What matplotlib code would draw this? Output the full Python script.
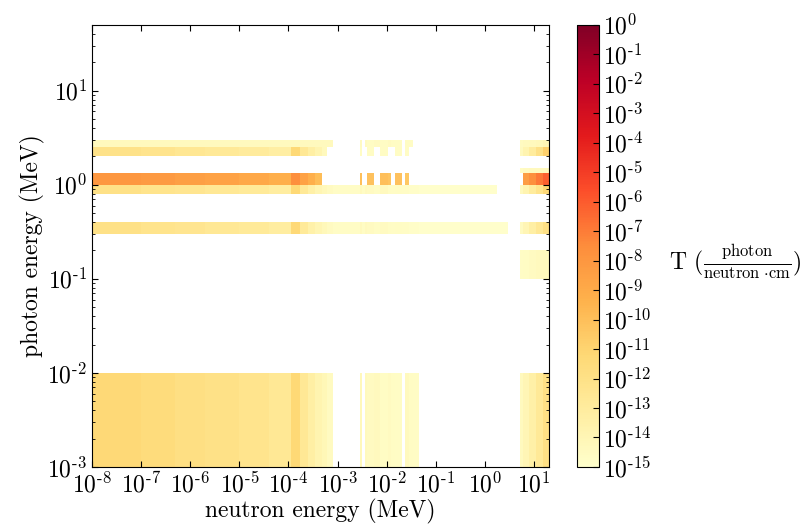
import numpy as np
import matplotlib
matplotlib.use('Agg')
import matplotlib.pyplot as plt
from matplotlib.colors import LogNorm
from matplotlib.ticker import FuncFormatter

plt.rcParams['font.family'] = 'serif'
plt.rcParams['font.serif'] = ['cmr10', 'DejaVu Serif']
plt.rcParams['mathtext.fontset'] = 'cm'
plt.rcParams['axes.formatter.use_mathtext'] = True
for ax_ in ['xtick', 'ytick']:
    plt.rcParams[ax_ + '.direction'] = 'in'
    plt.rcParams[ax_ + '.major.size'] = 4
    plt.rcParams[ax_ + '.minor.size'] = 2
plt.rcParams['xtick.top'] = True
plt.rcParams['ytick.right'] = True

nan = np.nan

# neutron energy group edges (MeV)
neutron_edges = [1e-8, 1e-7, 5e-7, 2e-6, 1e-5, 4e-5, 1.1e-4, 1.7e-4, 2.5e-4, 3.5e-4,
                 4.8e-4, 6.1e-4, 8.1e-4, 2.9e-3, 3.2e-3, 3.6e-3, 4.0e-3, 5.5e-3, 7.3e-3,
                 1.07e-2, 1.25e-2, 1.48e-2, 2.05e-2, 2.4e-2, 2.9e-2, 3.5e-2, 4.6e-2,
                 1.8, 3.0, 5.2, 6.0, 8.0, 11.0, 15.0, 20.0]

# photon energy group edges (MeV)
photon_edges = [1e-3, 1e-2, 0.1, 0.2, 0.3, 0.4, 0.8, 1.0, 1.33, 1.5, 2.0, 2.5, 3.0, 50.0]

# log10(T) for each photon group, one value per neutron group (nan = no data)
g_001_01 = [-11.3, -11.5, -11.8, -12.0, -12.3, -12.6, -11.2, -12.6, -13.3, -13.8, -14.1, -14.5,
            nan, -14.2, nan, -14.3, -14.5, -14.4, -14.6, -14.5, -14.6, -14.7, nan, -14.4, -14.6, -14.7,
            nan, nan, nan, -14.4, -14.0, -13.4, -12.7, -11.9]
g_01_1 = [nan] * 34
g_1_2 = [nan] * 29 + [-14.7, -14.6, -14.5, -14.4, -14.3]
g_2_3 = [nan] * 34
g_3_4 = [-12.0, -12.2, -12.4, -12.6, -12.8, -13.1, -11.3, -12.8, -13.5, -13.9, -14.2, -14.5,
         -14.7, -14.3, -14.6, -14.4, -14.5, -14.6, -14.5, -14.6, -14.7, -14.6, -14.7, -14.7, -14.8, -14.8,
         -14.9, -14.9, nan, -14.5, -14.0, -13.3, -12.6, -11.9]
g_4_8 = [nan] * 34
g_8_10 = [-12.0, -12.2, -12.4, -12.6, -12.8, -13.1, -11.2, -12.7, -13.4, -13.9, -14.2, -14.5,
          -14.7, -14.3, -14.6, -14.4, -14.5, -14.6, -14.4, -14.6, -14.7, -14.6, -14.7, -14.7, -14.8, -14.8,
          -14.9, nan, nan, -14.4, -13.8, -13.0, -12.2, -11.3]
g_10_133 = [-8.0, -8.2, -8.4, -8.6, -8.9, -9.2, -7.6, -8.6, -9.2, -9.9, nan, nan,
            nan, -10.0, nan, nan, -10.1, nan, -10.0, -10.2, nan, -10.1, nan, -10.4, nan, nan,
            nan, nan, nan, nan, -8.3, -7.6, -6.9, -6.1]
g_133_15 = [nan] * 29 + [-14.6, -14.5, -14.4, -14.4, -14.3]
g_15_20 = [nan] * 34
g_20_25 = [-12.1, -12.3, -12.5, -12.7, -12.9, -13.2, -11.2, -12.6, -13.3, -13.8, -14.3, nan,
           nan, -14.6, nan, nan, -14.6, nan, -14.6, nan, nan, -14.6, nan, -14.7, nan, nan,
           nan, nan, nan, -14.4, -13.8, -13.0, -12.0, -10.8]
g_25_30 = [-14.4] * 12 + [nan, -14.5, nan, -14.5, -14.6, -14.5, -14.6, -14.5, -14.6, -14.6, nan, -14.6, -14.7, nan,
                          nan, nan, nan, -14.5, -14.4, -14.3, -14.2, -14.0]
g_30_500 = [nan] * 34

rows = [g_001_01, g_01_1, g_1_2, g_2_3, g_3_4, g_4_8, g_8_10, g_10_133,
        g_133_15, g_15_20, g_20_25, g_25_30, g_30_500]
T = np.ma.masked_invalid(10.0 ** np.array(rows))


def pow10(v, pos):
    k = int(round(np.log10(v)))
    return r'$10^{\text{%d}}$' % k


fig = plt.figure(figsize=(8.1, 5.27), dpi=100)
ax = fig.add_axes([0.1136, 0.1139, 0.564, 0.839])
cax = fig.add_axes([0.712, 0.1139, 0.027, 0.839])

mesh = ax.pcolormesh(neutron_edges, photon_edges, T, cmap='YlOrRd',
                     norm=LogNorm(vmin=1e-15, vmax=1.0))
ax.set_xscale('log')
ax.set_yscale('log')
ax.set_xlim(1e-8, 20)
ax.set_ylim(1e-3, 50)
ax.set_xticks([10.0 ** k for k in range(-8, 2)])
ax.set_yticks([10.0 ** k for k in range(-3, 2)])
ax.xaxis.set_major_formatter(FuncFormatter(pow10))
ax.yaxis.set_major_formatter(FuncFormatter(pow10))
ax.tick_params(labelsize=17)
ax.set_xlabel('neutron energy (MeV)', fontsize=17, labelpad=1)
ax.set_ylabel('photon energy (MeV)', fontsize=17, labelpad=2)

cb = fig.colorbar(mesh, cax=cax)
cb.set_ticks([10.0 ** k for k in range(-15, 1)])
cb.ax.yaxis.set_major_formatter(FuncFormatter(pow10))
cb.ax.minorticks_off()
cb.ax.tick_params(labelsize=17, direction='in', length=4)
fig.text(0.826, 0.503, r'T $(\frac{\mathrm{photon}}{\mathrm{neutron}\ {\cdot}\mathrm{cm}})$',
         fontsize=17, va='center', ha='left')

fig.savefig('out.png', dpi=100)
